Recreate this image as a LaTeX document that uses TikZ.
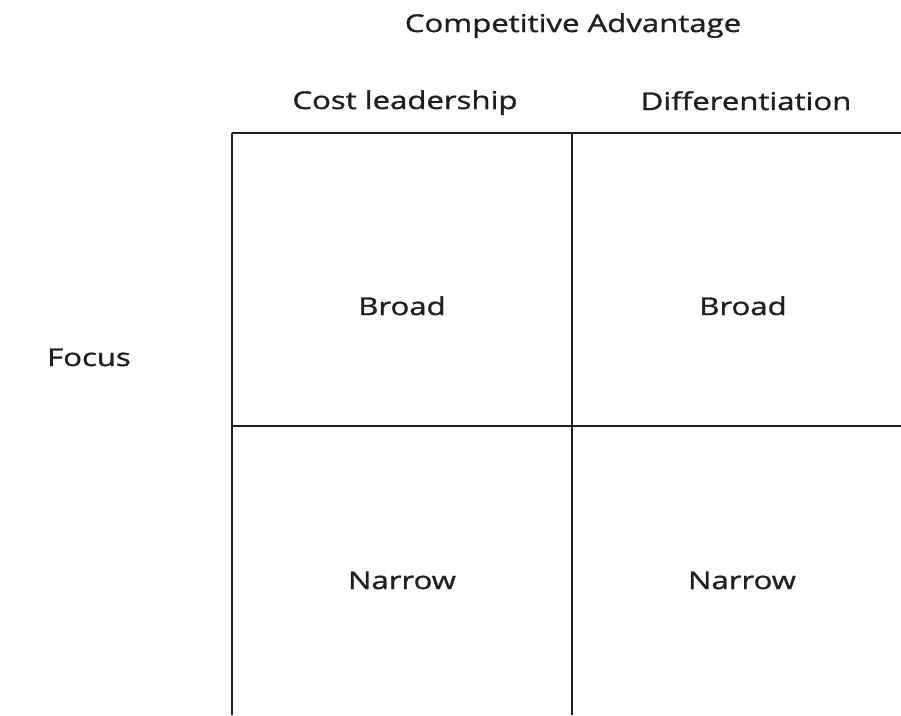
\documentclass[tikz,border=0pt]{standalone}
\usepackage{fontspec}
\setmainfont{Open Sans}[FakeStretch=1.27,FakeBold=1.2]
\begin{document}
\begin{tikzpicture}[x=1pt,y=-1pt,
  lbl/.style={inner sep=0pt,anchor=base,font=\fontsize{24.5}{29}\selectfont,text=black!88},
  gridline/.style={line width=2.8pt,draw=black!88}]
\useasboundingbox[fill=white] (0,0) rectangle (901,715);
\coordinate (tl) at (232,133);
\coordinate (tm) at (572,133);
\coordinate (tr) at (901,133);
\coordinate (ml) at (232,426);
\coordinate (mr) at (901,426);
\coordinate (bl) at (232,715);
\coordinate (bm) at (572,715);
\draw[gridline] (tl) -- (tr);
\draw[gridline] (ml) -- (mr);
\draw[gridline] (tl) -- (bl);
\draw[gridline] (tm) -- (bm);
\node[lbl] (ca) at (573,32) {Competitive Advantage};
\node[lbl] (cl) at (405,109) {Cost leadership};
\node[lbl] (df) at (746,110) {Differentiation};
\node[lbl] (fo) at (89,366) {Focus};
\node[lbl] (b1) at (402,315) {Broad};
\node[lbl] (b2) at (743,315) {Broad};
\node[lbl] (n1) at (402,589) {Narrow};
\node[lbl] (n2) at (742,589) {Narrow};
\end{tikzpicture}
\end{document}
